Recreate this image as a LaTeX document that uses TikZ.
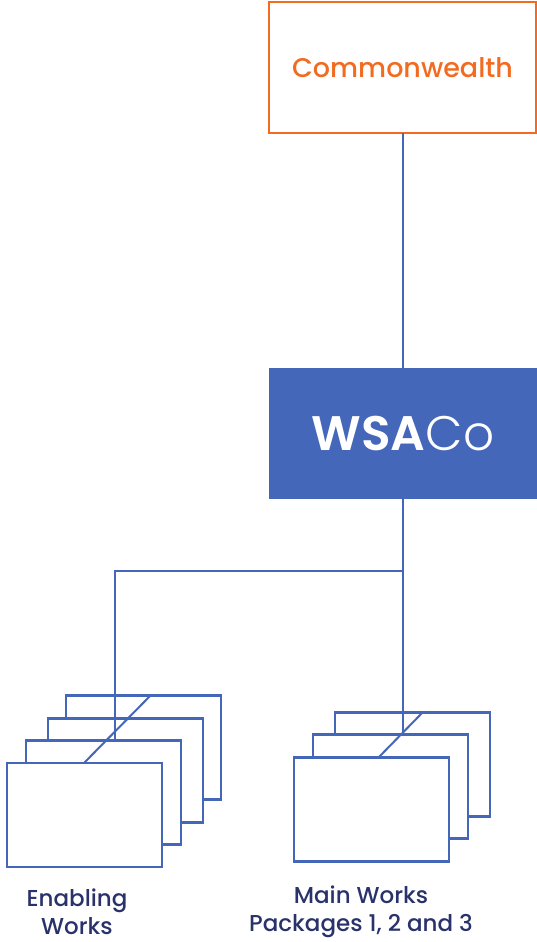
\documentclass[tikz,border=0pt]{standalone}
\usepackage{fontspec}
\setmainfont{Poppins}
\newfontfamily\popmed{Poppins Medium}
\newfontfamily\popsemi{Poppins SemiBold}
\newfontfamily\poplight{Poppins Light}
\definecolor{wsblue}{HTML}{4467B9}
\definecolor{cworange}{HTML}{F26B21}
\definecolor{navy}{HTML}{29326B}
\begin{document}
\begin{tikzpicture}[x=1pt,y=-1pt,
  sheet/.style={draw=wsblue,fill=white,line width=2.3pt,minimum width=155pt,minimum height=104pt,inner sep=0pt,outer sep=0pt},
  conn/.style={draw=wsblue,line width=2pt},
  lbl/.style={text=navy,font=\popmed\fontsize{23}{28}\selectfont,align=center,inner sep=0pt}]
\useasboundingbox (0,0) rectangle (537,942);
% top boxes
\node[draw=cworange,line width=2pt,minimum width=267pt,minimum height=131pt,inner sep=0pt,outer sep=0pt,
  text=cworange,font=\popmed\fontsize{27}{32}\selectfont] (cw) at (402.5,67.5) {Commonwealth};
\node[fill=wsblue,minimum width=268pt,minimum height=131pt,inner sep=0pt,outer sep=0pt,
  text=white,font=\fontsize{48.5}{54}\selectfont] (ws) at (403,433.5) {{\popsemi WSA}{\poplight Co}};
\draw[conn] (cw.south) -- (cw.south |- ws.north);
% enabling works stack
\node[sheet] (ew4) at (143.5,747.5) {};
\node[sheet] (ew3) at (125.5,770.5) {};
\node[sheet] (ew2) at (103.5,792.5) {};
\node[sheet] (ew1) at (84.5,815) {};
% main works stack
\node[sheet] (mw3) at (412.5,764.5) {};
\node[sheet] (mw2) at (390.5,786.5) {};
\node[sheet] (mw1) at (371.5,809.5) {};
% connectors
\coordinate (j) at (115,571);
\draw[conn] (cw.south |- ws.south) -- (cw.south |- mw2.north);
\draw[conn] (cw.south |- j) -- (j) -- (j |- ew2.north);
\draw[conn] (84,763) -- (151,695);
\draw[conn] (379,757) -- (423,712);
% labels
\node[lbl] (el) at (77,912) {Enabling\\Works};
\node[lbl] (ml) at (361,912) {Main Works\\Packages 1, 2 and 3};
\end{tikzpicture}
\end{document}
